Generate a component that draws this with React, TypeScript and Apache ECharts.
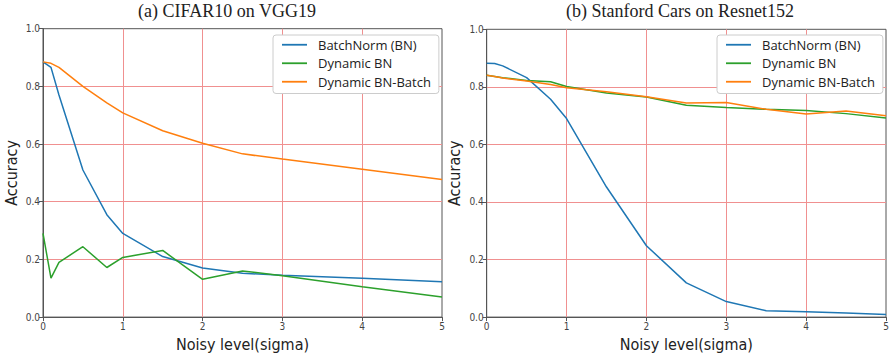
import React, { useEffect, useRef } from "react";
import * as echarts from "echarts";

const seriesNames = ["BatchNorm (BN)", "Dynamic BN", "Dynamic BN-Batch"];
const colors = ["#1f77b4", "#2ca02c", "#ff7f0e"];
const titles = ["(a) CIFAR10 on VGG19", "(b) Stanford Cars on Resnet152"];
const xName = "Noisy level(sigma)";
const yName = "Accuracy";

// (a) CIFAR10 on VGG19
const sigmaA = [0, 0.1, 0.2, 0.5, 0.8, 1, 1.5, 2, 2.5, 3, 4, 5];
const bnA = [0.885, 0.866, 0.77, 0.51, 0.355, 0.29, 0.21, 0.17, 0.152, 0.145, 0.135, 0.123];
const dynA = [0.29, 0.135, 0.19, 0.244, 0.172, 0.207, 0.231, 0.131, 0.16, 0.143, 0.105, 0.07];
const dynBatchA = [0.885, 0.88, 0.866, 0.8, 0.743, 0.708, 0.646, 0.603, 0.566, 0.548, 0.513, 0.477];

// (b) Stanford Cars on Resnet152
const sigmaB = [0, 0.1, 0.2, 0.5, 0.8, 1, 1.5, 2, 2.5, 3, 3.5, 4, 4.5, 5];
const bnB = [0.882, 0.881, 0.873, 0.832, 0.757, 0.69, 0.452, 0.248, 0.119, 0.054, 0.022, 0.019, 0.014, 0.009];
const dynB = [0.84, 0.836, 0.832, 0.822, 0.818, 0.801, 0.779, 0.765, 0.736, 0.728, 0.722, 0.718, 0.707, 0.692];
const dynBatchB = [0.84, 0.836, 0.831, 0.82, 0.808, 0.797, 0.783, 0.766, 0.744, 0.746, 0.722, 0.706, 0.716, 0.7];

const xTicks = [0, 1, 2, 3, 4, 5];
const yTicks = [0, 0.2, 0.4, 0.6, 0.8, 1.0];

const pairs = (xs: number[], ys: number[]) => xs.map((x, i) => [x, ys[i]]);

const tickFont = "'DejaVu Sans Condensed', 'DejaVu Sans', sans-serif";
const gridColor = "#f09090";
const spineColor = "#555";

export default function App() {
  const ref = useRef<HTMLDivElement>(null);
  useEffect(() => {
    const chart = echarts.init(ref.current!, undefined, { renderer: "svg" });
    const grids = [
      { left: 43, top: 28.7, width: 399, height: 291 },
      { left: 486.7, top: 29.3, width: 399.3, height: 291.4 },
    ];
    const mkX = (i: number) => ({
      type: "value",
      gridIndex: i,
      min: xTicks[0],
      max: xTicks[xTicks.length - 1],
      interval: 1,
      name: xName,
      nameLocation: "middle",
      nameGap: 15,
      nameTextStyle: { fontFamily: tickFont, fontSize: 16, color: "#222" },
      axisLine: { show: true, lineStyle: { color: spineColor, width: 1 } },
      axisTick: { show: true, length: 4, lineStyle: { color: spineColor } },
      axisLabel: { fontFamily: tickFont, fontSize: 10, color: "#444", margin: 4 },
      splitLine: {
        show: true,
        showMinLine: false,
        showMaxLine: false,
        lineStyle: { color: gridColor, width: 1 },
      },
    });
    const mkY = (i: number) => ({
      type: "value",
      gridIndex: i,
      min: yTicks[0],
      max: yTicks[yTicks.length - 1],
      interval: 0.2,
      name: yName,
      nameLocation: "middle",
      nameGap: 24,
      nameTextStyle: { fontFamily: tickFont, fontSize: 16, color: "#222" },
      axisLine: { show: true, lineStyle: { color: spineColor, width: 1 } },
      axisTick: { show: true, length: 4, lineStyle: { color: spineColor } },
      axisLabel: {
        fontFamily: tickFont,
        fontSize: 10,
        color: "#444",
        margin: 3,
        formatter: (v: number) => v.toFixed(1),
      },
      splitLine: {
        show: true,
        showMinLine: false,
        showMaxLine: false,
        lineStyle: { color: gridColor, width: 1 },
      },
    });
    const dataA = [bnA, dynA, dynBatchA];
    const dataB = [bnB, dynB, dynBatchB];
    const series: any[] = [];
    dataA.forEach((d, k) =>
      series.push({
        type: "line",
        name: seriesNames[k],
        xAxisIndex: 0,
        yAxisIndex: 0,
        data: pairs(sigmaA, d),
        showSymbol: false,
        symbol: "none",
        lineStyle: { color: colors[k], width: 1.5 },
        itemStyle: { color: colors[k] },
      })
    );
    dataB.forEach((d, k) =>
      series.push({
        type: "line",
        name: seriesNames[k],
        xAxisIndex: 1,
        yAxisIndex: 1,
        data: pairs(sigmaB, d),
        showSymbol: false,
        symbol: "none",
        lineStyle: { color: colors[k], width: 1.5 },
        itemStyle: { color: colors[k] },
      })
    );
    const mkLegend = (left: number) => ({
      data: seriesNames,
      orient: "vertical",
      left,
      top: 35,
      icon: "rect",
      itemWidth: 25,
      itemHeight: 1.8,
      itemGap: 5,
      padding: [3, 8, 5, 9],
      backgroundColor: "#fff",
      borderColor: "#ccc",
      borderWidth: 1,
      borderRadius: 3,
      textStyle: {
        fontFamily: "'Open Sans', sans-serif",
        fontSize: 13,
        lineHeight: 13.5,
        color: "#222",
        padding: [0, 0, 0, 6],
      },
      selectedMode: false,
    });
    chart.setOption({
      animation: false,
      backgroundColor: "#fff",
      grid: grids.map((g) => ({
        ...g,
        show: true,
        borderColor: spineColor,
        borderWidth: 1,
        backgroundColor: "transparent",
        containLabel: false,
      })),
      xAxis: [mkX(0), mkX(1)],
      yAxis: [mkY(0), mkY(1)],
      legend: [mkLegend(273), mkLegend(717)],
      graphic: [
        {
          type: "text",
          x: 227,
          y: 11,
          style: {
            text: titles[0],
            textAlign: "center",
            textVerticalAlign: "middle",
            font: "18px 'Liberation Serif', serif",
            fill: "#222",
          },
        },
        {
          type: "text",
          x: 680,
          y: 11,
          style: {
            text: titles[1],
            textAlign: "center",
            textVerticalAlign: "middle",
            font: "18px 'Liberation Serif', serif",
            fill: "#222",
          },
        },
      ],
      series,
    });
    return () => chart.dispose();
  }, []);
  return (
    <div
      ref={ref}
      style={{ position: "fixed", left: 0, top: 0, width: 892, height: 357 }}
    />
  );
}
